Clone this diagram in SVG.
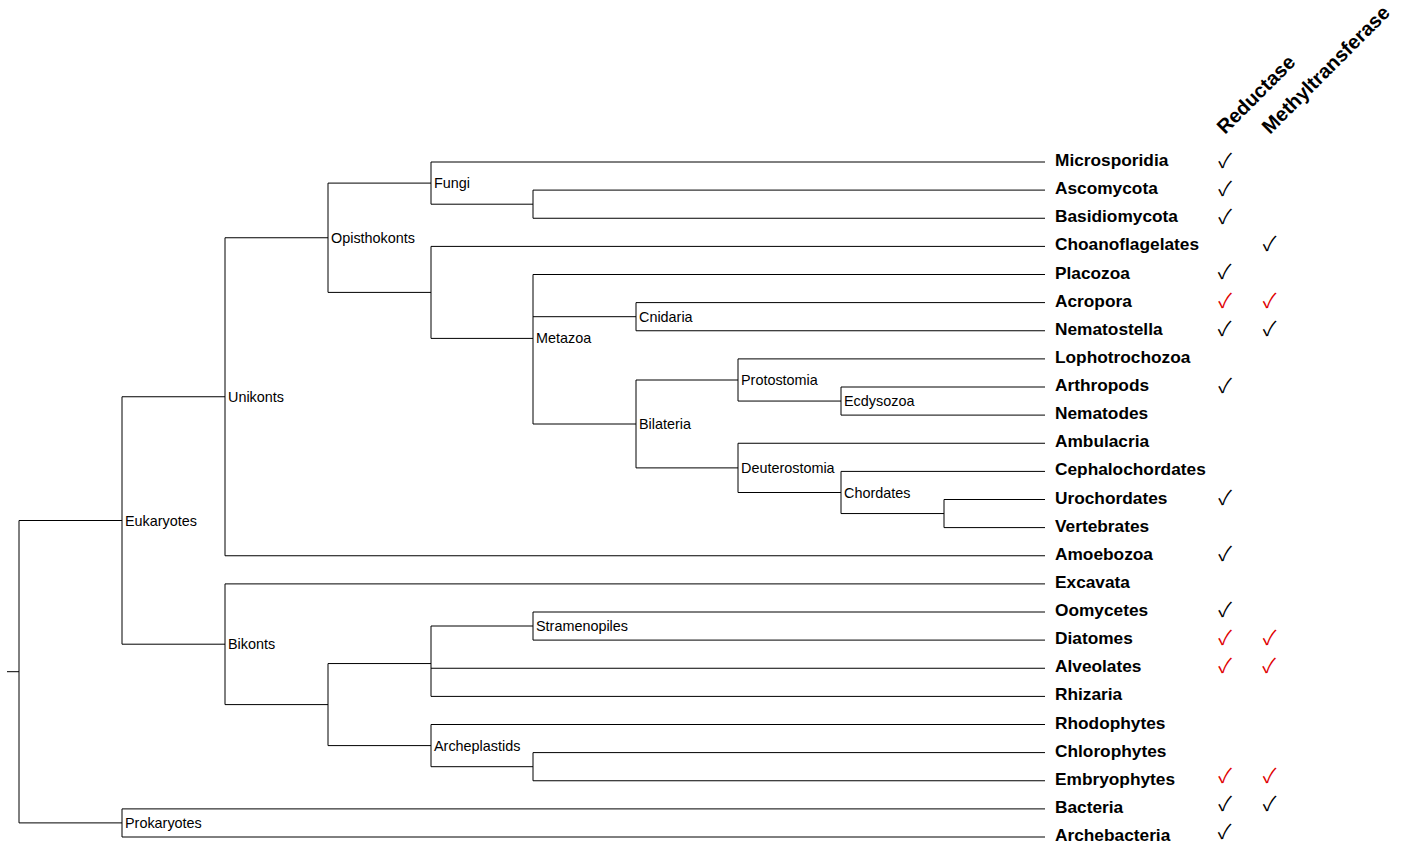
<svg xmlns="http://www.w3.org/2000/svg" width="1410" height="845" viewBox="0 0 1410 845">
<style>
.ln{fill:none;stroke:#000;stroke-width:1;}
.lab{font-family:"Liberation Sans",Arial,sans-serif;font-size:14.4px;fill:#000;}
.leaf{font-family:"Liberation Sans",Arial,sans-serif;font-size:17.3px;font-weight:bold;fill:#000;}
.hdr{font-family:"Liberation Sans",Arial,sans-serif;font-size:20px;font-weight:bold;fill:#000;}
.ck{font-family:"Noto Sans CJK JP","DejaVu Sans",sans-serif;font-size:20px;fill:#000;text-anchor:middle;dominant-baseline:central;}
.red{fill:#e00000;}
</style>
<rect width="1410" height="845" fill="#fff"/>
<g id="connectors" class="ln">
<path d="M7,671.7H19 M19,520.5V822.9 M19,520.5H122 M19,822.9H122"/>
<path d="M122,396.75V644.2 M122,396.75H225 M122,644.2H225"/>
<path d="M122,808.9V837 M122,808.9H1045 M122,837H1045"/>
<path d="M225,237.75V555.75 M225,237.75H328 M225,555.75H1045"/>
<path d="M328,183.1V292.4 M328,183.1H431 M328,292.4H431"/>
<path d="M431,162V204.2 M431,162H1045 M431,204.2H533"/>
<path d="M533,190.1V218.25 M533,190.1H1045 M533,218.25H1045"/>
<path d="M431,246.4V338.4 M431,246.4H1045 M431,338.4H533"/>
<path d="M533,274.5V424 M533,274.5H1045 M533,316.7H636 M533,424H636"/>
<path d="M636,302.6V330.75 M636,302.6H1045 M636,330.75H1045"/>
<path d="M636,380V467.9 M636,380H738 M636,467.9H738"/>
<path d="M738,358.9V401.05 M738,358.9H1045 M738,401.05H841"/>
<path d="M841,387V415.1 M841,387H1045 M841,415.1H1045"/>
<path d="M738,443.25V492.5 M738,443.25H1045 M738,492.5H841"/>
<path d="M841,471.4V513.55 M841,471.4H1045 M841,513.55H944"/>
<path d="M944,499.5V527.6 M944,499.5H1045 M944,527.6H1045"/>
<path d="M225,583.9V704.6 M225,583.9H1045 M225,704.6H328"/>
<path d="M328,663.55V745.6 M328,663.55H431 M328,745.6H431"/>
<path d="M431,626V696.4 M431,626H533 M431,668.25H1045 M431,696.4H1045"/>
<path d="M533,612V640.1 M533,612H1045 M533,640.1H1045"/>
<path d="M431,724.5V766.7 M431,724.5H1045 M431,766.7H533"/>
<path d="M533,752.6V780.75 M533,752.6H1045 M533,780.75H1045"/>
</g>
<g id="headers">
<text class="hdr" transform="translate(1225,135) rotate(-45)">Reductase</text>
<text class="hdr" transform="translate(1270,135) rotate(-45)">Methyltransferase</text>
</g>
<g id="n-eukaryotes"><text class="lab" x="125" y="525.5">Eukaryotes</text></g>
<g id="n-prokaryotes"><text class="lab" x="125" y="827.9">Prokaryotes</text></g>
<g id="n-unikonts"><text class="lab" x="228" y="401.75">Unikonts</text></g>
<g id="n-bikonts"><text class="lab" x="228" y="649.2">Bikonts</text></g>
<g id="n-opisthokonts"><text class="lab" x="331" y="242.75">Opisthokonts</text></g>
<g id="n-fungi"><text class="lab" x="434" y="188.1">Fungi</text></g>
<g id="n-metazoa"><text class="lab" x="536" y="343.4">Metazoa</text></g>
<g id="n-cnidaria"><text class="lab" x="639" y="321.7">Cnidaria</text></g>
<g id="n-bilateria"><text class="lab" x="639" y="429">Bilateria</text></g>
<g id="n-protostomia"><text class="lab" x="741" y="385">Protostomia</text></g>
<g id="n-ecdysozoa"><text class="lab" x="844" y="406.05">Ecdysozoa</text></g>
<g id="n-deuterostomia"><text class="lab" x="741" y="472.9">Deuterostomia</text></g>
<g id="n-chordates"><text class="lab" x="844" y="497.5">Chordates</text></g>
<g id="n-stramenopiles"><text class="lab" x="536" y="631">Stramenopiles</text></g>
<g id="n-archeplastids"><text class="lab" x="434" y="750.6">Archeplastids</text></g>
<g id="l-microsporidia"><text class="leaf" x="1055" y="166">Microsporidia</text><text class="ck" x="1225" y="159">✓</text></g>
<g id="l-ascomycota"><text class="leaf" x="1055" y="194.1">Ascomycota</text><text class="ck" x="1225" y="187.1">✓</text></g>
<g id="l-basidiomycota"><text class="leaf" x="1055" y="222.25">Basidiomycota</text><text class="ck" x="1225" y="215.25">✓</text></g>
<g id="l-choanoflagelates"><text class="leaf" x="1055" y="250.4">Choanoflagelates</text><text class="ck" x="1269.5" y="242.4">✓</text></g>
<g id="l-placozoa"><text class="leaf" x="1055" y="278.5">Placozoa</text><text class="ck" x="1224.5" y="270.5">✓</text></g>
<g id="l-acropora"><text class="leaf" x="1055" y="306.6">Acropora</text><text class="ck red" x="1225" y="299.6">✓</text><text class="ck red" x="1269.5" y="299.6">✓</text></g>
<g id="l-nematostella"><text class="leaf" x="1055" y="334.75">Nematostella</text><text class="ck" x="1224.5" y="327.75">✓</text><text class="ck" x="1269.5" y="327.75">✓</text></g>
<g id="l-lophotrochozoa"><text class="leaf" x="1055" y="362.9">Lophotrochozoa</text></g>
<g id="l-arthropods"><text class="leaf" x="1055" y="391">Arthropods</text><text class="ck" x="1225" y="384">✓</text></g>
<g id="l-nematodes"><text class="leaf" x="1055" y="419.1">Nematodes</text></g>
<g id="l-ambulacria"><text class="leaf" x="1055" y="447.25">Ambulacria</text></g>
<g id="l-cephalochordates"><text class="leaf" x="1055" y="475.4">Cephalochordates</text></g>
<g id="l-urochordates"><text class="leaf" x="1055" y="503.5">Urochordates</text><text class="ck" x="1225" y="496">✓</text></g>
<g id="l-vertebrates"><text class="leaf" x="1055" y="531.6">Vertebrates</text></g>
<g id="l-amoebozoa"><text class="leaf" x="1055" y="559.75">Amoebozoa</text><text class="ck" x="1225" y="552">✓</text></g>
<g id="l-excavata"><text class="leaf" x="1055" y="587.9">Excavata</text></g>
<g id="l-oomycetes"><text class="leaf" x="1055" y="616">Oomycetes</text><text class="ck" x="1225" y="608.5">✓</text></g>
<g id="l-diatomes"><text class="leaf" x="1055" y="644.1">Diatomes</text><text class="ck red" x="1225" y="636.6">✓</text><text class="ck red" x="1269.5" y="636.6">✓</text></g>
<g id="l-alveolates"><text class="leaf" x="1055" y="672.25">Alveolates</text><text class="ck red" x="1225" y="664.75">✓</text><text class="ck red" x="1269" y="664.75">✓</text></g>
<g id="l-rhizaria"><text class="leaf" x="1055" y="700.4">Rhizaria</text></g>
<g id="l-rhodophytes"><text class="leaf" x="1055" y="728.5">Rhodophytes</text></g>
<g id="l-chlorophytes"><text class="leaf" x="1055" y="756.6">Chlorophytes</text></g>
<g id="l-embryophytes"><text class="leaf" x="1055" y="784.75">Embryophytes</text><text class="ck red" x="1225" y="774.5">✓</text><text class="ck red" x="1269.5" y="774.5">✓</text></g>
<g id="l-bacteria"><text class="leaf" x="1055" y="812.9">Bacteria</text><text class="ck" x="1225" y="802.5">✓</text><text class="ck" x="1269.5" y="802.5">✓</text></g>
<g id="l-archebacteria"><text class="leaf" x="1055" y="841">Archebacteria</text><text class="ck" x="1224.5" y="830.5">✓</text></g>
</svg>
